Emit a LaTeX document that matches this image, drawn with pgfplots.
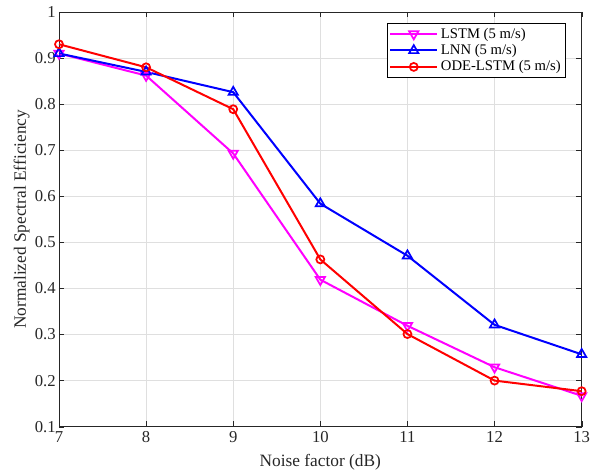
\documentclass[border=0pt]{standalone}
\usepackage{fontspec}
\setmainfont{Liberation Serif}
\usepackage{pgfplots}
\pgfplotsset{compat=1.18}

\definecolor{tickgray}{rgb}{0.15,0.15,0.15}
\definecolor{lstmcol}{rgb}{1,0,1}
\definecolor{lnncol}{rgb}{0,0,1}
\definecolor{odecol}{rgb}{1,0,0}

\begin{document}
\begin{tikzpicture}
\begin{axis}[
    width=392pt, height=311pt,
    scale only axis,
    xmin=7, xmax=13,
    ymin=0.1, ymax=1,
    xtick={7,8,9,10,11,12,13},
    ytick={0.1,0.2,0.3,0.4,0.5,0.6,0.7,0.8,0.9,1},
    yticklabel style={/pgf/number format/fixed, xshift=1pt},
    /pgf/number format/assume math mode=true,
    tick label style={font=\fontsize{12.5}{14}\selectfont, text=tickgray},
    label style={font=\fontsize{13}{15}\selectfont, text=tickgray},
    xlabel={Noise factor (dB)},
    ylabel={Normalized Spectral Efficiency},
    xlabel style={yshift=-2pt},
    ylabel style={yshift=-3pt},
    grid=major,
    grid style={gray!25, line width=0.4pt},
    axis line style={tickgray, line width=0.5pt},
    tick style={tickgray},
    tick align=inside,
    major tick length=4pt,
    legend style={at={(1,1)}, anchor=north east, xshift=-12pt, yshift=-8.25pt,
        font=\fontsize{11}{13}\selectfont,
        draw=black, line width=0.4pt, inner sep=1.5pt, row sep=-0.8pt, cells={anchor=west}},
    legend cell align=left,
    legend image code/.code={%
        \draw[mark repeat=2, mark phase=2, #1] plot coordinates {(0cm,0cm) (0.62cm,0cm) (1.24cm,0cm)};},
]
\addplot[lstmcol, line width=1.5pt, mark=triangle, mark options={rotate=180, line width=1.3pt}, mark size=4pt]
    coordinates {(7,0.910) (8,0.862) (9,0.693) (10,0.419) (11,0.319) (12,0.229) (13,0.167)};
\addlegendentry{LSTM (5 m/s)}
\addplot[lnncol, line width=1.5pt, mark=triangle, mark options={line width=1.3pt}, mark size=4pt]
    coordinates {(7,0.910) (8,0.870) (9,0.826) (10,0.584) (11,0.471) (12,0.321) (13,0.257)};
\addlegendentry{LNN (5 m/s)}
\addplot[odecol, line width=1.5pt, mark=o, mark options={line width=1.3pt}, mark size=3pt]
    coordinates {(7,0.930) (8,0.880) (9,0.789) (10,0.463) (11,0.301) (12,0.200) (13,0.177)};
\addlegendentry{ODE-LSTM (5 m/s)}
\end{axis}
\pgfresetboundingbox
\useasboundingbox ([xshift=-44.25pt,yshift=-35.25pt]current axis.south west)
    rectangle ([xshift=9.25pt,yshift=9pt]current axis.north east);
\end{tikzpicture}
\end{document}
